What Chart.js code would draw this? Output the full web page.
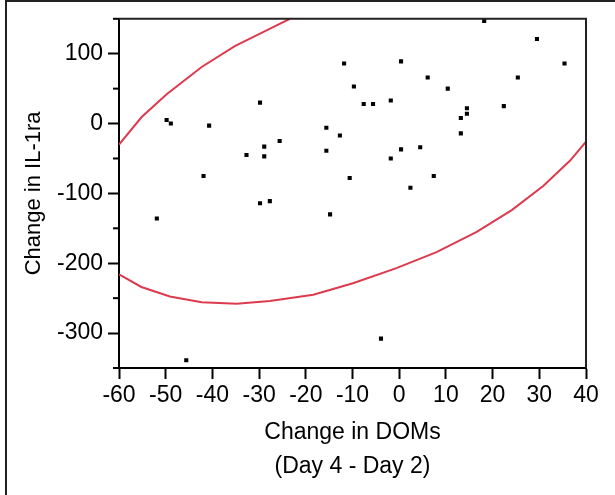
<!DOCTYPE html>
<html>
<head>
<meta charset="utf-8">
<script src="https://cdn.jsdelivr.net/npm/chart.js@4/dist/chart.umd.min.js"></script>
<style>
  html, body { margin: 0; padding: 0; background: #fff; }
  #wrap { position: relative; width: 615px; height: 495px; overflow: hidden; }
  #frame { position: absolute; left: 5px; top: 0; width: 620px; height: 520px;
           border-top: 2px solid #222; border-left: 2px solid #222; box-sizing: border-box; }
  canvas { position: absolute; left: 0; top: 0; }
</style>
</head>
<body>
<div id="wrap">
  <div id="frame"></div>
  <canvas id="c" width="615" height="495"></canvas>
</div>
<script>
// Scatter data: change in DOMs (x) vs change in IL-1ra (y)
const domChange = [
  -11.8, -9.7, -29.8, -49.8, -48.9, -40.7, -15.6, -12.7, -25.6, -28.9,
  -32.7, -28.9, -15.6, -41.9, -10.6, 18.2, 29.5, 35.4, 0.4, 6.1,
  25.4, 10.4, -7.6, -5.6, -1.8, 14.5, 14.5, 22.4, 13.2, 13.2,
  0.4, 4.5, -1.8, 7.4, 2.4, -51.9, -45.6, -29.8, -27.7, -14.8, -3.9
];
const il1raChange = [
  86, 53, 30, 5, 0, -3, -6, -17, -25, -33,
  -45, -47, -39, -75, -78, 147, 121, 86, 89, 66,
  66, 50, 28, 28, 33, 22, 14, 25, 8, -14,
  -37, -34, -50, -75, -92, -136, -339, -114, -111, -130, -308
];
// Density ellipse, visible pieces
const ellipseUpperX = [-60, -55.2, -49.8, -42.3, -35.2, -27, -23.4];
const ellipseUpperY = [-30, 9, 42, 81, 111, 138, 150];
const ellipseLowerX = [-60, -55.2, -49.1, -42.3, -34.8, -27.7, -18.4, -9.9, -0.6, 8, 16.6, 24.1, 30.9, 36.6, 40];
const ellipseLowerY = [-216, -234, -247.6, -256, -258, -254, -245, -228.6, -207, -184, -155, -124, -89, -53, -26];

const xTitle = ['Change in DOMs', '(Day 4 - Day 2)'];
const yTitle = 'Change in IL-1ra';

const toPts = (xs, ys) => xs.map((x, i) => ({x: x, y: ys[i]}));
const red = 'rgb(221,58,78)';
const FONT = '"Liberation Sans", Arial, sans-serif';

const framePlugin = {
  id: 'frame',
  afterDraw(chart) {
    const {ctx, chartArea: a, scales} = chart;
    ctx.save();
    ctx.strokeStyle = '#222';
    ctx.lineWidth = 2;
    ctx.beginPath();
    ctx.moveTo(a.left, a.top);
    ctx.lineTo(a.right, a.top);
    ctx.lineTo(a.right, a.bottom);
    ctx.stroke();
    // minor y ticks
    const ys = scales.y;
    ctx.strokeStyle = '#000';
    ys.ticks.forEach(t => {
      if (t.value % 100 !== 0) {
        const p = ys.getPixelForValue(t.value);
        ctx.beginPath();
        ctx.moveTo(a.left - 6, p);
        ctx.lineTo(a.left, p);
        ctx.stroke();
      }
    });
    ctx.restore();
  }
};

new Chart(document.getElementById('c'), {
  type: 'scatter',
  data: {
    datasets: [
      {
        data: toPts(domChange, il1raChange),
        pointStyle: 'rect',
        pointRadius: 2.9,
        pointBorderWidth: 0,
        backgroundColor: '#000',
        borderColor: '#000',
        showLine: false
      },
      {
        data: toPts(ellipseUpperX, ellipseUpperY),
        showLine: true, pointRadius: 0, borderColor: red, borderWidth: 2, tension: 0, fill: false
      },
      {
        data: toPts(ellipseLowerX, ellipseLowerY),
        showLine: true, pointRadius: 0, borderColor: red, borderWidth: 2, tension: 0, fill: false
      }
    ]
  },
  options: {
    responsive: false,
    animation: false,
    devicePixelRatio: 1,
    layout: { padding: { top: 18, right: 29, left: 0, bottom: 0 } },
    plugins: { legend: { display: false }, tooltip: { enabled: false } },
    scales: {
      x: {
        type: 'linear', min: -60, max: 40,
        afterFit(s) { s.height = 127; },
        border: { display: true, color: '#000', width: 2 },
        grid: { display: true, drawOnChartArea: false, drawTicks: true, tickLength: 11, tickWidth: 2, tickColor: '#000' },
        ticks: { stepSize: 10, autoSkip: false, maxRotation: 0, padding: 3, color: '#000',
                 font: { family: FONT, size: 23 } },
        title: { display: true, text: xTitle, color: '#000',
                 font: { family: FONT, size: 23, lineHeight: 1.5 }, padding: { top: 0, bottom: 11 } }
      },
      y: {
        type: 'linear', min: -350, max: 150,
        afterFit(s) { s.width = 119; },
        border: { display: true, color: '#000', width: 2 },
        grid: { display: true, drawOnChartArea: false, drawTicks: true, tickLength: 11, tickWidth: 2,
                tickColor: (c) => (c.tick && c.tick.value % 100 === 0) ? '#000' : 'rgba(0,0,0,0)' },
        ticks: { stepSize: 50, autoSkip: false, padding: 5, color: '#000',
                 font: { family: FONT, size: 23 },
                 callback: (v) => (v % 100 === 0 ? String(v) : '') },
        title: { display: true, text: yTitle, color: '#000',
                 font: { family: FONT, size: 22 }, padding: { top: 21, bottom: 0 } }
      }
    }
  },
  plugins: [framePlugin]
});
</script>
</body>
</html>
